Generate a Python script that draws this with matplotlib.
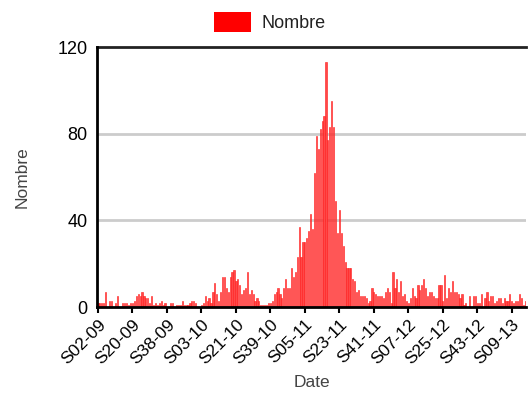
import matplotlib
matplotlib.use("Agg")
import matplotlib.pyplot as plt
import numpy as np
from matplotlib.patches import Patch

plt.rcParams['font.family'] = ['Liberation Sans', 'DejaVu Sans']

# Weekly counts from S02-09 onwards
nombre = [
    2, 2, 2, 2, 7, 0, 3, 3, 0, 2, 5, 0, 0, 2, 2, 2, 1, 2,
    2, 3, 5, 6, 5, 7, 5, 4, 4, 2, 5, 1, 2, 1, 2, 3, 1, 2,
    0, 0, 2, 2, 0, 1, 1, 1, 3, 1, 1, 1, 2, 3, 3, 2, 0, 0,
    1, 2, 5, 3, 4, 2, 7, 11, 6, 3, 7, 14, 14, 9, 7, 14, 16, 17,
    12, 13, 10, 6, 8, 9, 16, 6, 8, 6, 3, 4, 3, 1, 1, 1, 1, 2,
    2, 3, 6, 7, 9, 6, 4, 9, 13, 9, 9, 18, 14, 16, 23, 37, 23, 30,
    30, 32, 35, 43, 36, 62, 79, 73, 82, 86, 88, 113, 77, 83, 95, 83, 49, 34,
    45, 34, 28, 21, 18, 18, 18, 13, 12, 7, 8, 5, 5, 5, 4, 2, 3, 9,
    7, 6, 5, 5, 5, 4, 7, 9, 7, 2, 16, 9, 13, 7, 12, 5, 6, 3,
    2, 4, 9, 5, 4, 10, 8, 10, 13, 9, 5, 7, 7, 5, 4, 4, 10, 10,
    3, 15, 4, 9, 7, 12, 7, 7, 6, 4, 6, 1, 2, 0, 5, 0, 5, 5,
    2, 2, 6, 0, 4, 7, 3, 5, 5, 2, 3, 4, 4, 2, 4, 3, 3, 6,
    3, 2, 3, 3, 6, 4, 1, 3,
]
tick_labels = ['S02-09', 'S20-09', 'S38-09', 'S03-10', 'S21-10', 'S39-10',
               'S05-11', 'S23-11', 'S41-11', 'S07-12', 'S25-12', 'S43-12', 'S09-13']
y_ticks = [0, 40, 80, 120]

fig = plt.figure(figsize=(5.32, 4.19), dpi=100)
ax = fig.add_axes([97/532, 1 - 307/419, 429/532, 260/419])

x = np.arange(len(nombre))
ax.bar(x, nombre, width=0.62, facecolor='#ff4848', edgecolor='#ff1a1a',
       linewidth=0.4, label='Nombre', zorder=3)

ax.set_xlim(-0.5, 223.4)
ax.set_ylim(0, 120)
ax.set_yticks(y_ticks)
ax.set_yticklabels([str(v) for v in y_ticks], fontsize=13, color='black')
ax.set_xticks(np.arange(0, len(tick_labels) * 18, 18))
ax.set_xticklabels(tick_labels, rotation=45, ha='right', rotation_mode='anchor',
                   fontsize=12.5, color='black')
ax.tick_params(axis='x', length=4, width=1.5, color='black', pad=3)
ax.tick_params(axis='y', length=0, pad=7)

for y in [40, 80]:
    ax.axhline(y, color='#cccccc', linewidth=2, zorder=1)

ax.spines['right'].set_visible(False)
for s in ['left', 'bottom']:
    ax.spines[s].set_linewidth(2)
    ax.spines[s].set_color('black')
    ax.spines[s].set_zorder(5)
ax.spines['top'].set_linewidth(2)
ax.spines['top'].set_color('#222222')

ax.set_ylabel('Nombre', fontsize=12.5, color='#444444', labelpad=20)
ax.set_xlabel('Date', fontsize=12.5, color='#444444', labelpad=6)

handle = Patch(facecolor='#ff0000', edgecolor='none')
fig.legend([handle], ['Nombre'], loc='center', bbox_to_anchor=(270/532, 1 - 22/419),
           frameon=False, fontsize=13, handlelength=2.0, handleheight=1.4,
           handletextpad=0.6, labelcolor='#222222')

fig.savefig('out.png', dpi=100)
